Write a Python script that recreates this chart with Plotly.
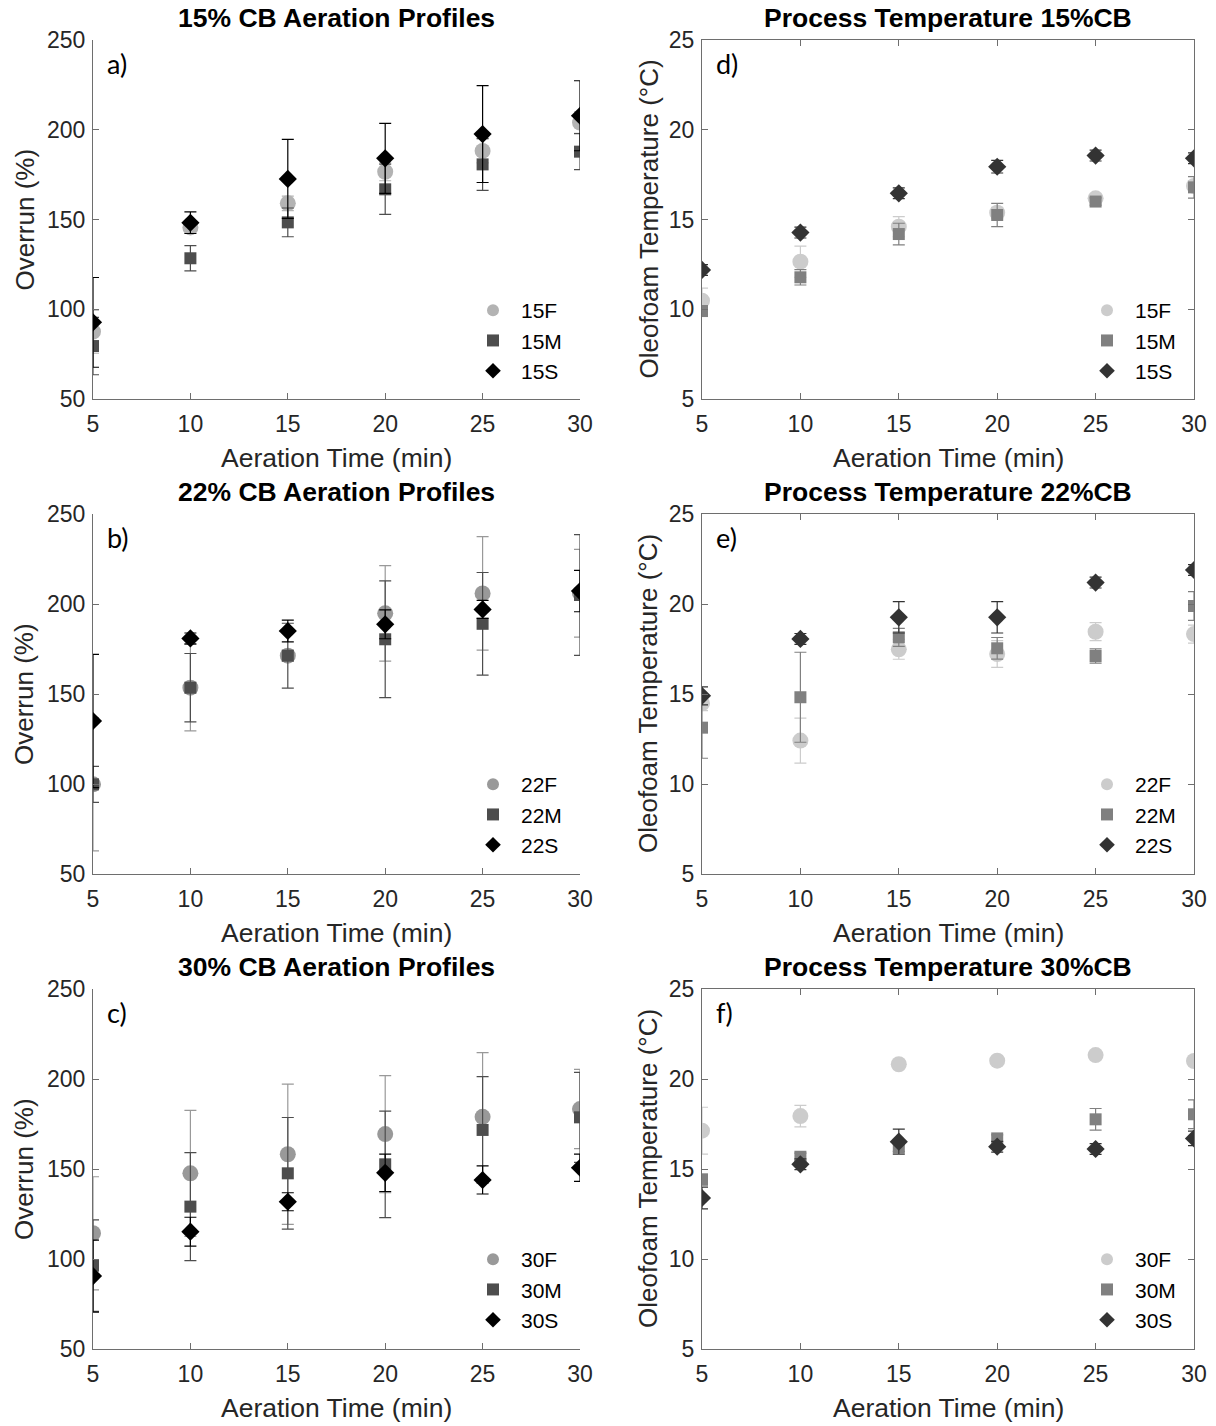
import plotly.graph_objects as go
from plotly.subplots import make_subplots

times = [5, 10, 15, 20, 25, 30]

# Panel a: 15% CB overrun
a_F = [87.5, 145.6, 159.0, 176.6, 188.2, 204.0]
a_F_err = [12, 3, 4, 5, 6.6, 6]
a_M = [79.5, 128.4, 148.4, 166.8, 180.7, 187.8]
a_M_err = [16, 7, 8, 14, 14.5, 10]
a_S = [92.7, 148.2, 172.6, 184.1, 197.6, 207.8]
a_S_err = [25, 6, 22, 19.5, 27, 19.5]

# Panel d: 15% CB temperature
d_F = [10.48, 12.65, 14.6, 15.38, 16.18, 16.87]
d_F_err = [0.7, 0.87, 0.56, 0.3, 0.2, 0.3]
d_M = [9.9, 11.78, 14.19, 15.25, 16.0, 16.79]
d_M_err = [0.3, 0.43, 0.6, 0.65, 0.2, 0.6]
d_S = [12.19, 14.27, 16.46, 17.94, 18.56, 18.41]
d_S_err = [0.3, 0.3, 0.3, 0.35, 0.3, 0.3]

# Panel b: 22% CB overrun
b_F = [99.8, 153.5, 171.3, 194.8, 205.9, 206.0]
b_F_err = [37, 24, 3, 26.5, 31.5, 24.4]
b_M = [99.8, 153.5, 171.3, 180.4, 189.0, 205.0]
b_M_err = [10, 19, 18, 32.4, 28.5, 33.5]
b_S = [135.0, 180.9, 185.0, 188.7, 197.0, 207.2]
b_S_err = [37, 3, 6, 8, 5, 11.5]

# Panel e: 22% CB temperature
e_F = [14.48, 12.41, 17.48, 17.22, 18.46, 18.33]
e_F_err = [0.4, 1.25, 0.55, 0.74, 0.5, 0.5]
e_M = [13.13, 14.82, 18.15, 17.54, 17.11, 19.89]
e_M_err = [1.7, 2.5, 0.5, 0.6, 0.4, 0.8]
e_S = [14.9, 18.06, 19.26, 19.26, 21.19, 21.89]
e_S_err = [0.5, 0.3, 0.87, 0.87, 0.3, 0.3]

# Panel c: 30% CB overrun
c_F = [114.3, 147.6, 158.2, 169.4, 179.0, 183.3]
c_F_err = [31.4, 35, 39, 32.5, 35.6, 22]
c_M = [96.3, 129.1, 147.6, 152.6, 171.7, 178.7]
c_M_err = [25.4, 30, 31, 29.6, 29.6, 25]
c_S = [90.5, 115.2, 131.8, 147.9, 143.9, 150.7]
c_S_err = [20, 8, 5, 10.4, 7.8, 7.6]

# Panel f: 30% CB temperature
f_F = [17.13, 17.94, 20.82, 21.02, 21.33, 21.0]
f_F_err = [1.3, 0.6, 0.2, 0.2, 0.2, 0.2]
f_M = [14.41, 15.68, 16.18, 16.7, 17.76, 18.04]
f_M_err = [0.3, 0.2, 0.2, 0.2, 0.6, 0.8]
f_S = [13.39, 15.26, 16.52, 16.24, 16.11, 16.7]
f_S_err = [0.6, 0.3, 0.7, 0.3, 0.3, 0.4]

OFF = 8  # page body margin
W, H = 1216 - OFF, 1426 - OFF
FONT = "Liberation Sans"
LABFONT = "Lato"


def px(v):
    return (v - OFF) / W


def py(v):
    return 1 - (v - OFF) / H


fig = make_subplots(rows=3, cols=2)

panels = [
    (1, 1, [(a_F, a_F_err), (a_M, a_M_err), (a_S, a_S_err)], ["15F", "15M", "15S"],
     ["#b3b3b3", "#4d4d4d", "#000000"], "a)", "15% CB Aeration Profiles"),
    (1, 2, [(d_F, d_F_err), (d_M, d_M_err), (d_S, d_S_err)], ["15F", "15M", "15S"],
     ["#cccccc", "#808080", "#333333"], "d)", "Process Temperature 15%CB"),
    (2, 1, [(b_F, b_F_err), (b_M, b_M_err), (b_S, b_S_err)], ["22F", "22M", "22S"],
     ["#999999", "#4d4d4d", "#000000"], "b)", "22% CB Aeration Profiles"),
    (2, 2, [(e_F, e_F_err), (e_M, e_M_err), (e_S, e_S_err)], ["22F", "22M", "22S"],
     ["#cccccc", "#808080", "#333333"], "e)", "Process Temperature 22%CB"),
    (3, 1, [(c_F, c_F_err), (c_M, c_M_err), (c_S, c_S_err)], ["30F", "30M", "30S"],
     ["#999999", "#4d4d4d", "#000000"], "c)", "30% CB Aeration Profiles"),
    (3, 2, [(f_F, f_F_err), (f_M, f_M_err), (f_S, f_S_err)], ["30F", "30M", "30S"],
     ["#cccccc", "#808080", "#333333"], "f)", "Process Temperature 30%CB"),
]

symbols = ["circle", "square", "diamond"]
sizes = [16, 12, 14]

col_x = {1: (93, 580), 2: (702, 1194)}
row_y = {1: (40, 399), 2: (514, 874), 3: (989, 1349)}

TXT = "#262626"
annotations = []
for idx, (r, c, series, names, colors, label, title) in enumerate(panels):
    legname = "legend" if idx == 0 else f"legend{idx + 1}"
    for (vals, errs), name, col, sym, sz in zip(series, names, colors, symbols, sizes):
        fig.add_trace(go.Scatter(
            x=times, y=vals, mode="markers", name=name,
            marker=dict(symbol=sym, size=sz, color=col, line=dict(width=0)),
            error_y=dict(type="data", array=errs, visible=True, color=col,
                         thickness=1.2, width=6),
            legend=legname, showlegend=True,
        ), row=r, col=c)
    x0, x1 = col_x[c]
    y0, y1 = row_y[r]
    right = (c == 2)
    fig.update_xaxes(domain=[px(x0), px(x1)], range=[5, 30], tickvals=times,
                     ticks="inside", ticklen=6, ticklabelstandoff=4,
                     showline=True, linecolor="#6e6e6e", linewidth=1, tickcolor="#6e6e6e",
                     mirror="ticks" if right else False, showgrid=False, zeroline=False,
                     automargin=False,
                     tickfont=dict(family=FONT, size=23, color=TXT),
                     row=r, col=c)
    if right:
        yr, yt, ytitle = [5, 25], [5, 10, 15, 20, 25], "Oleofoam Temperature (°C)"
    else:
        yr, yt, ytitle = [50, 250], [50, 100, 150, 200, 250], "Overrun (%)"
    fig.update_yaxes(domain=[py(y1), py(y0)], range=yr, tickvals=yt,
                     ticks="inside", ticklen=6, ticklabelstandoff=2,
                     showline=True, linecolor="#6e6e6e", linewidth=1, tickcolor="#6e6e6e",
                     mirror="ticks" if right else False, showgrid=False, zeroline=False,
                     automargin=False,
                     tickfont=dict(family=FONT, size=23, color=TXT),
                     row=r, col=c)
    # axis titles
    annotations.append(dict(text="Aeration Time (min)", x=px((x0 + x1) / 2), y=py(y1 + 59),
                            xref="paper", yref="paper", showarrow=False,
                            font=dict(family=FONT, size=26.5, color=TXT),
                            xanchor="center", yanchor="middle"))
    annotations.append(dict(text=ytitle, x=px(x0 - (69 if not right else 54)),
                            y=py((y0 + y1) / 2),
                            xref="paper", yref="paper", showarrow=False, textangle=-90,
                            font=dict(family=FONT, size=26, color=TXT),
                            xanchor="center", yanchor="middle"))
    # legend
    fig.update_layout({legname: dict(
        x=px(x1 - 115), y=py(y0 + 250), xanchor="left", yanchor="top",
        bgcolor="rgba(0,0,0,0)", font=dict(family=FONT, size=21, color="#000"),
        itemsizing="constant", itemwidth=46, tracegroupgap=0,
    )})
    # title
    annotations.append(dict(text=f"<b>{title}</b>", x=px((x0 + x1) / 2), y=py(y0 - 22),
                            xref="paper", yref="paper", showarrow=False,
                            font=dict(family=FONT, size=26.5, color="#000"),
                            xanchor="center", yanchor="middle"))
    annotations.append(dict(text=label, x=px(x0 + 12), y=py(y0 + 23),
                            xref="paper", yref="paper", showarrow=False,
                            font=dict(family=LABFONT, size=27, color="#000"),
                            xanchor="left", yanchor="middle"))

fig.update_layout(width=W, height=H, margin=dict(l=0, r=0, t=0, b=0, autoexpand=False),
                  paper_bgcolor="white", plot_bgcolor="white",
                  annotations=annotations)

fig.write_html("out.html")
